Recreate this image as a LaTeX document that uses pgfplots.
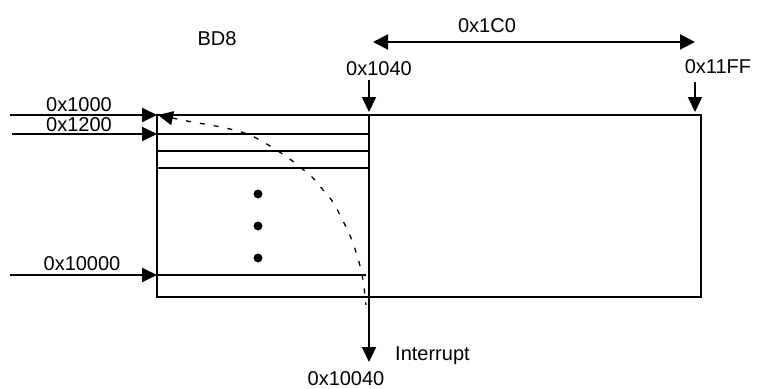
\documentclass[border=0pt]{standalone}
\usepackage{pgfplots}
\pgfplotsset{compat=1.18}
\usepackage{fontspec}
\setmainfont{Liberation Sans}
\usetikzlibrary{arrows.meta}
\begin{document}
\begin{tikzpicture}
\begin{axis}[hide axis, scale only axis, width=758pt, height=387pt,
  xmin=0, xmax=758, ymin=0, ymax=387, y dir=reverse, clip=false,
  font=\fontsize{20}{24}\selectfont]
\addplot[draw=none] coordinates {(0,0) (758,387)};
% main rectangle
\addplot[black, line width=2pt, line cap=rect] coordinates {(157,115) (701,115) (701,297) (157,297) (157,115)};
% divider
\addplot[black, line width=2pt] coordinates {(369,115) (369,297)};
% horizontal rows
\addplot[black, line width=2pt] coordinates {(157,134) (369,134)};
\addplot[black, line width=2pt] coordinates {(157,151) (369,151)};
\addplot[black, line width=2pt] coordinates {(157,168) (369,168)};
\addplot[black, line width=2pt] coordinates {(157,275) (366,275)};
% dots
\addplot[only marks, mark=*, mark size=4.2pt, black] coordinates {(258,194) (258,226) (258,258)};
% incoming arrows
\addplot[black, line width=2pt, -{Triangle[length=15pt,width=14pt]}] coordinates {(10,115) (157,115)};
\addplot[black, line width=2pt, -{Triangle[length=15pt,width=14pt]}] coordinates {(12,134) (157,134)};
\addplot[black, line width=2pt, -{Triangle[length=15pt,width=14pt]}] coordinates {(10,275) (157,275)};
% top arrows
\addplot[black, line width=2pt, -{Triangle[length=15pt,width=14pt]}] coordinates {(369,80) (369,112)};
\addplot[black, line width=2pt, -{Triangle[length=15pt,width=14pt]}] coordinates {(695,82) (695,112)};
\addplot[black, line width=2pt, {Triangle[length=15pt,width=15pt]}-{Triangle[length=15pt,width=15pt]}] coordinates {(373,42) (695,42)};
% interrupt arrow
\addplot[black, line width=2pt, -{Triangle[length=15pt,width=14pt]}] coordinates {(369,297) (369,362)};
% dashed curve
\addplot[black, line width=1.3pt, dash pattern=on 5pt off 9pt, smooth, {Triangle[length=15pt,width=14pt]}-] coordinates {
(158,115) (187,121) (210,125) (230,129) (250,135) (270,146) (287,157) (300,167)
(313,178) (323,190) (333,202) (340,215) (347,229) (353,243) (359,262) (363,280) (366,305)};
% labels
\node[anchor=base] at (axis cs:79,111) {0x1000};
\node[anchor=base] at (axis cs:79,131) {0x1200};
\node[anchor=base] at (axis cs:82,270) {0x10000};
\node[anchor=base] at (axis cs:217,45) {BD8};
\node[anchor=base] at (axis cs:487,32) {0x1C0};
\node[anchor=base] at (axis cs:379,75) {0x1040};
\node[anchor=base] at (axis cs:718,73) {0x11FF};
\node[anchor=base west, inner sep=0pt] at (axis cs:395,360) {Interrupt};
\node[anchor=base] at (axis cs:346,385) {0x10040};
\end{axis}
\end{tikzpicture}
\end{document}
